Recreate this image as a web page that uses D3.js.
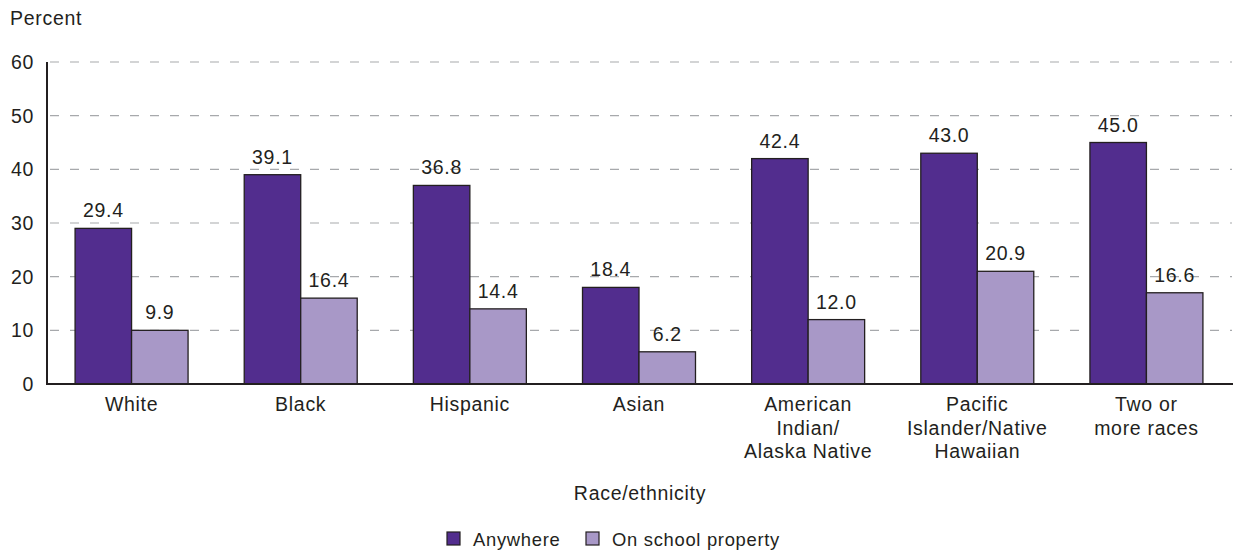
<!DOCTYPE html>
<html><head><meta charset="utf-8">
<script src="https://cdn.jsdelivr.net/npm/d3@7"></script>
<style>body{margin:0;background:#fff}svg{display:block}text{font-family:"Liberation Sans",Arial,sans-serif;fill:#231f20;letter-spacing:0.7px}</style>
</head><body><svg id="c" width="1234" height="552"></svg>
<script>
const categories = [["White"],["Black"],["Hispanic"],["Asian"],["American","Indian/","Alaska Native"],["Pacific","Islander/Native","Hawaiian"],["Two or","more races"]];
const anywhere = [29.4, 39.1, 36.8, 18.4, 42.4, 43.0, 45.0];
const onSchool = [9.9, 16.4, 14.4, 6.2, 12.0, 20.9, 16.6];
const seriesNames = ["Anywhere", "On school property"];
const colors = ["#522d8e", "#a898c7"];
const yTicks = [0, 10, 20, 30, 40, 50, 60];

const FS = 19.5;
const svg = d3.select("#c");
const x0 = 47, x1 = 1231, yTop = 62, yBot = 384;
const x = d3.scaleBand().domain(d3.range(categories.length)).range([x0, x1]).paddingInner(0.332).paddingOuter(0.166);
const xs = d3.scaleBand().domain([0,1]).range([0, x.bandwidth()]);
const y = d3.scaleLinear().domain([0, 60]).range([yBot, yTop]);

// grid
svg.append("g").selectAll("line").data(yTicks.filter(t=>t>0)).join("line")
  .attr("x1", x0+3).attr("x2", 1232).attr("y1", d=>y(d)).attr("y2", d=>y(d))
  .attr("stroke", "#a7a9ac").attr("stroke-width", 1.2).attr("stroke-dasharray", "9,11");

// y tick labels
svg.append("g").selectAll("text").data(yTicks).join("text")
  .attr("x", 34).attr("y", d=>y(d) + 7).attr("text-anchor", "end")
  .attr("font-size", FS).text(d=>d);

svg.append("text").attr("x", 10).attr("y", 25).attr("font-size", FS).text("Percent");

const series = [anywhere, onSchool];
const g = svg.append("g");
categories.forEach((c, i) => {
  series.forEach((vals, s) => {
    const v = vals[i];
    const bx = x(i) + xs(s), bw = xs.bandwidth();
    const top = y(Math.round(v));
    g.append("rect").attr("x", bx).attr("y", top).attr("width", bw).attr("height", yBot - top)
      .attr("fill", colors[s]).attr("stroke", "#231f20").attr("stroke-width", 1.3);
    g.append("text").attr("x", bx + bw/2).attr("y", top - 11).attr("text-anchor", "middle")
      .attr("font-size", FS).text(d3.format(".1f")(v));
  });
  const t = g.append("text").attr("text-anchor", "middle").attr("font-size", FS);
  c.forEach((line, k) => t.append("tspan").attr("x", x(i) + x.bandwidth()/2).attr("y", 411 + k*23.5).text(line));
});

// axes lines
svg.append("line").attr("x1", x0).attr("x2", x0).attr("y1", yTop).attr("y2", yBot+1).attr("stroke", "#231f20").attr("stroke-width", 2);
svg.append("line").attr("x1", x0-1).attr("x2", 1233).attr("y1", yBot).attr("y2", yBot).attr("stroke", "#231f20").attr("stroke-width", 2);

svg.append("text").attr("x", 640).attr("y", 500).attr("text-anchor", "middle").attr("font-size", FS).text("Race/ethnicity");

// legend
const legX = [447, 586];
seriesNames.forEach((n, s) => {
  svg.append("rect").attr("x", legX[s]).attr("y", 532).attr("width", 13).attr("height", 13)
    .attr("fill", colors[s]).attr("stroke", "#231f20").attr("stroke-width", 1.2);
  svg.append("text").attr("x", legX[s] + 26).attr("y", 546).attr("font-size", 18.4).text(n);
});
</script></body></html>
